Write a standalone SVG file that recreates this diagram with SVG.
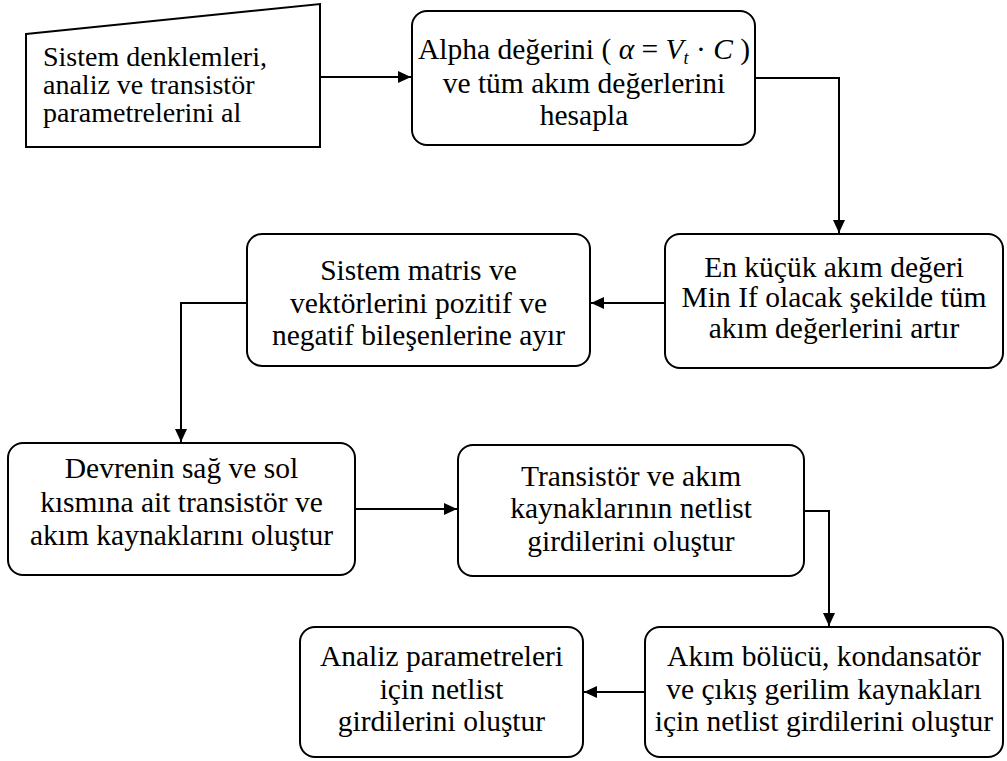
<svg xmlns="http://www.w3.org/2000/svg" width="1007" height="761" viewBox="0 0 1007 761">
<style>
.box{fill:#fff;stroke:#000;stroke-width:2}
.t{font-family:"Liberation Serif","Times New Roman",serif;font-size:29.5px;fill:#000;text-anchor:middle}
.tl{font-family:"Liberation Serif","Times New Roman",serif;font-size:28px;fill:#000}
.i{font-style:italic}
.c{fill:none;stroke:#000;stroke-width:2}
</style>
<defs>
<marker id="ah" markerUnits="userSpaceOnUse" markerWidth="14" markerHeight="14" viewBox="0 0 14 14" refX="13" refY="7" orient="auto">
<path d="M0,1 L13,7 L0,13 Z" fill="#000"/>
</marker>
</defs>
<rect width="1007" height="761" fill="#fff"/>
<g id="connectors">
<path class="c" d="M320,77 L411,77" marker-end="url(#ah)"/>
<path class="c" d="M755,78 L839,78 L839,233" marker-end="url(#ah)"/>
<path class="c" d="M665,303 L591,303" marker-end="url(#ah)"/>
<path class="c" d="M247,303 L181,303 L181,442" marker-end="url(#ah)"/>
<path class="c" d="M355,509 L457,509" marker-end="url(#ah)"/>
<path class="c" d="M804,511 L829,511 L829,626" marker-end="url(#ah)"/>
<path class="c" d="M645,692 L584,692" marker-end="url(#ah)"/>
</g>
<g id="n1">
<polygon class="box" points="26,34 320,4 320,147 26,147"/>
<text class="tl" x="43" y="66">Sistem denklemleri,</text>
<text class="tl" x="43" y="94">analiz ve transistör</text>
<text class="tl" x="43" y="122">parametrelerini al</text>
</g>
<g id="n2">
<rect class="box" x="412" y="11" width="343" height="134" rx="15"/>
<text class="t" x="584" y="59">Alpha değerini ( <tspan class="i">α</tspan> = <tspan class="i">V</tspan><tspan class="i" font-size="18" dy="5">t</tspan><tspan dy="-5"> · </tspan><tspan class="i">C</tspan> )</text>
<text class="t" x="584" y="93">ve tüm akım değerlerini</text>
<text class="t" x="584" y="125">hesapla</text>
</g>
<g id="n3">
<rect class="box" x="665" y="234" width="338" height="134" rx="15"/>
<text class="t" x="834" y="277">En küçük akım değeri</text>
<text class="t" x="834" y="307">Min If olacak şekilde tüm</text>
<text class="t" x="834" y="338">akım değerlerini artır</text>
</g>
<g id="n4">
<rect class="box" x="247" y="234" width="343" height="132" rx="15"/>
<text class="t" x="418.5" y="280">Sistem matris ve</text>
<text class="t" x="418.5" y="313">vektörlerini pozitif ve</text>
<text class="t" x="418.5" y="345">negatif bileşenlerine ayır</text>
</g>
<g id="n5">
<rect class="box" x="8" y="443" width="347" height="132" rx="15"/>
<text class="t" x="181.5" y="478">Devrenin sağ ve sol</text>
<text class="t" x="181.5" y="512">kısmına ait transistör ve</text>
<text class="t" x="181.5" y="545">akım kaynaklarını oluştur</text>
</g>
<g id="n6">
<rect class="box" x="458" y="445" width="346" height="131" rx="15"/>
<text class="t" x="631" y="486">Transistör ve akım</text>
<text class="t" x="631" y="518">kaynaklarının netlist</text>
<text class="t" x="631" y="551">girdilerini oluştur</text>
</g>
<g id="n7">
<rect class="box" x="645" y="627" width="358" height="130" rx="15"/>
<text class="t" x="824" y="666">Akım bölücü, kondansatör</text>
<text class="t" x="824" y="699">ve çıkış gerilim kaynakları</text>
<text class="t" x="824" y="731">için netlist girdilerini oluştur</text>
</g>
<g id="n8">
<rect class="box" x="300" y="627" width="283" height="130" rx="15"/>
<text class="t" x="441.5" y="666">Analiz parametreleri</text>
<text class="t" x="441.5" y="699">için netlist</text>
<text class="t" x="441.5" y="731">girdilerini oluştur</text>
</g>
</svg>
